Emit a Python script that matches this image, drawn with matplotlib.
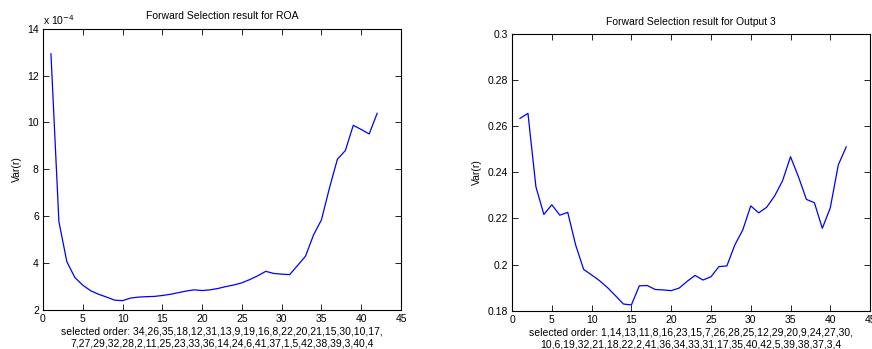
import matplotlib.pyplot as plt
import numpy as np

plt.rcParams['font.family'] = ['Liberation Sans', 'DejaVu Sans']
plt.rcParams['font.size'] = 7.5

# left panel: ROA (values in units of 1e-4)
roa_steps = np.arange(1, 43)
roa_var = [12.93, 5.77, 4.06, 3.39, 3.06, 2.82, 2.67, 2.55, 2.42, 2.40,
           2.51, 2.55, 2.57, 2.58, 2.62, 2.67, 2.74, 2.81, 2.86, 2.83,
           2.86, 2.92, 3.00, 3.07, 3.16, 3.30, 3.46, 3.65, 3.56, 3.53,
           3.51, 3.90, 4.30, 5.20, 5.85, 7.20, 8.43, 8.80, 9.88, 9.70,
           9.51, 10.39]
roa_order = ("selected order: 34,26,35,18,12,31,13,9,19,16,8,22,20,21,15,30,10,17,\n"
             "7,27,29,32,28,2,11,25,23,33,36,14,24,6,41,37,1,5,42,38,39,3,40,4")

# right panel: Output 3
out3_steps = np.arange(1, 43)
out3_var = [0.2633, 0.2655, 0.2337, 0.2217, 0.2259, 0.2214, 0.2226, 0.2084, 0.1979, 0.1955,
            0.1930, 0.1900, 0.1865, 0.1829, 0.1825, 0.1908, 0.1909, 0.1892, 0.1890, 0.1887,
            0.1898, 0.1927, 0.1953, 0.1933, 0.1947, 0.1991, 0.1994, 0.2085, 0.2150, 0.2254,
            0.2224, 0.2248, 0.2297, 0.2363, 0.2467, 0.2380, 0.2282, 0.2268, 0.2157, 0.2246,
            0.2431, 0.2510]
out3_order = ("selected order: 1,14,13,11,8,16,23,15,7,26,28,25,12,29,20,9,24,27,30,\n"
              "10,6,19,32,21,18,22,2,41,36,34,33,31,17,35,40,42,5,39,38,37,3,4")

fig = plt.figure(figsize=(8.72, 3.49), dpi=100)
ax1 = fig.add_axes([0.0493, 0.1117, 0.4106, 0.8061])
ax2 = fig.add_axes([0.5872, 0.1097, 0.4106, 0.7937])


def style(ax):
    ax.tick_params(direction='in', top=True, right=True, length=4, width=0.6,
                   labelsize=7.5, pad=3)
    for s in ax.spines.values():
        s.set_linewidth(0.8)
    ax.set_xticks(np.arange(0, 46, 5))
    ax.set_xlim(0, 45)


ax1.plot(roa_steps, roa_var, color='#0000ff', lw=0.9)
style(ax1)
ax1.set_ylim(2, 14)
ax1.set_yticks(np.arange(2, 15, 2))
ax1.set_title('Forward Selection result for ROA', fontsize=7.5, pad=7)
ax1.set_ylabel('Var(r)', fontsize=7.5)
ax1.set_xlabel(roa_order, fontsize=7.5, labelpad=2)
ax1.text(0.0, 1.005, 'x 10$^{-4}$', transform=ax1.transAxes, fontsize=7.5,
         ha='left', va='bottom')

ax2.plot(out3_steps, out3_var, color='#0000ff', lw=0.9)
style(ax2)
ax2.set_ylim(0.18, 0.3)
ax2.set_yticks([0.18, 0.2, 0.22, 0.24, 0.26, 0.28, 0.3])
ax2.set_yticklabels(['0.18', '0.2', '0.22', '0.24', '0.26', '0.28', '0.3'])
ax2.set_title('Forward Selection result for Output 3', fontsize=7.5, pad=6)
ax2.set_ylabel('Var(r)', fontsize=7.5)
ax2.set_xlabel(out3_order, fontsize=7.5, labelpad=2)

fig.savefig('out.png', dpi=100)
